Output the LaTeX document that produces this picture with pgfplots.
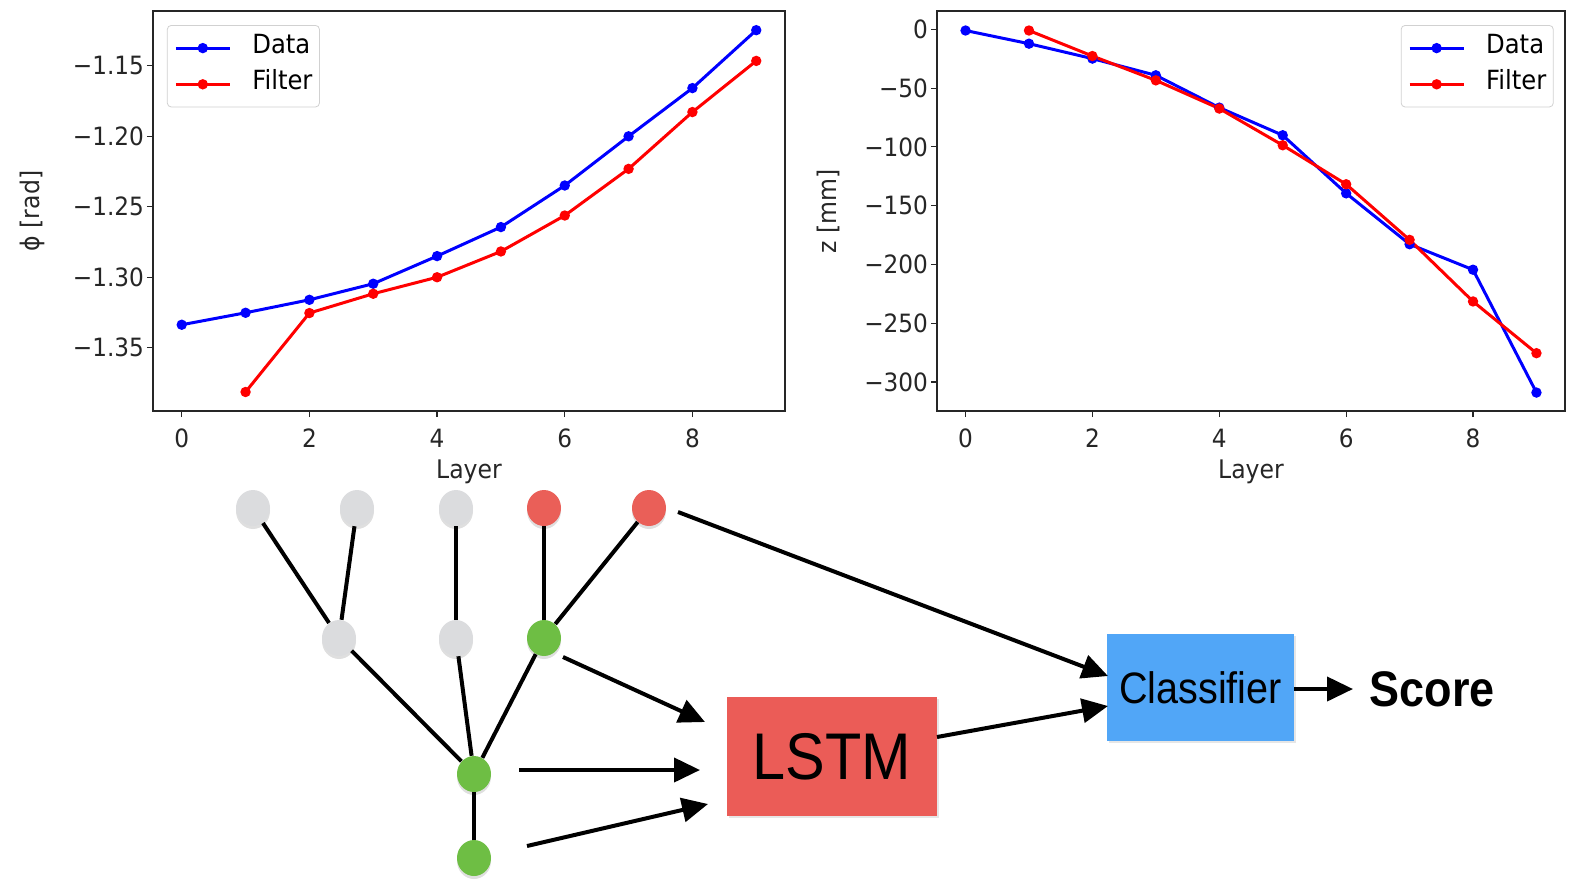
\documentclass[border=0pt]{standalone}
\usepackage{fontspec}
\usepackage{pgfplots}
\pgfplotsset{compat=1.18}
\usetikzlibrary{arrows.meta,shadows,shapes.geometric}
\newfontfamily\mpl{DejaVu Sans}[FakeStretch=0.92]
\newfontfamily\hv{Liberation Sans}[FakeStretch=0.9]

\definecolor{nodegray}{HTML}{DBDCDE}
\definecolor{nodered}{HTML}{EA5F58}
\definecolor{nodegreen}{HTML}{6EBE44}
\definecolor{lstmred}{HTML}{EB5C57}
\definecolor{clfblue}{HTML}{51A6F7}

\pgfplotsset{
  trackaxis/.style={
    scale only axis, height=200pt,
    axis line style={black!85, line width=0.75pt},
    tick align=outside, major tick length=3pt, tick pos=left,
    tick style={black!85, line width=0.6pt},
    tick label style={font=\mpl\fontsize{12.6}{15}\selectfont, text=black!85},
    x tick label style={yshift=-2.5pt},
    y tick label style={xshift=2pt},
    label style={font=\mpl\fontsize{12.8}{15}\selectfont, text=black!85},
    xmin=-0.45, xmax=9.45,
    xtick={0,2,4,6,8}, xticklabels={0,2,4,6,8},
    xlabel={Layer},
    x label style={at={(axis description cs:0.5,-0.1525)}, anchor=center},
    legend cell align=left,
    legend style={draw=black!18, rounded corners=2pt, fill=white,
      font=\mpl\fontsize{13.2}{15}\selectfont, inner xsep=3.5pt, inner ysep=6.6pt,
      nodes={inner sep=0pt, text height=0.75em, text depth=0.2em},
      row sep=8.6pt, /tikz/every odd column/.append style={column sep=10.5pt}},
    legend image code/.code={\draw[mark repeat=2,mark phase=2] plot coordinates {(0pt,0pt) (13.5pt,0pt) (27pt,0pt)};},
    every axis plot/.append style={line width=1.5pt, mark=*, mark size=1.8pt, mark options={solid}},
  },
}
\tikzset{
  tnode/.style={ellipse, minimum width=17pt, minimum height=18pt, inner sep=0pt,
    drop shadow={shadow xshift=0pt, shadow yshift=-1.5pt, opacity=0.25}},
  link/.style={line width=2pt},
  flow/.style={line width=2pt, -{Triangle[length=13pt,width=12pt]}},
}

\begin{document}
\begin{tikzpicture}
\useasboundingbox (0pt,0pt) rectangle (784.5pt,-440pt);

% phi vs layer
\begin{axis}[trackaxis, at={(76.5pt,-5.5pt)}, anchor=north west, width=316pt,
  ymin=-1.3949, ymax=-1.1111,
  ytick={-1.35,-1.30,-1.25,-1.20,-1.15},
  yticklabels={−1.35,−1.30,−1.25,−1.20,−1.15},
  ylabel={ϕ [rad]},
  y label style={at={(axis description cs:-0.19,0.5)}, anchor=center},
  legend style={at={(0.022,0.965)}, anchor=north west}]
\addplot[blue] coordinates {
  (0,-1.3337) (1,-1.3252) (2,-1.3160) (3,-1.3046) (4,-1.2850)
  (5,-1.2644) (6,-1.2349) (7,-1.2000) (8,-1.1658) (9,-1.1247)};
\addlegendentry{Data}
\addplot[red] coordinates {
  (1,-1.3814) (2,-1.3254) (3,-1.3117) (4,-1.3000) (5,-1.2817)
  (6,-1.2562) (7,-1.2231) (8,-1.1828) (9,-1.1465)};
\addlegendentry{Filter}
\end{axis}

% z vs layer
\begin{axis}[trackaxis, at={(468.5pt,-5.5pt)}, anchor=north west, width=314pt,
  ymin=-324.7, ymax=15.6,
  ytick={-300,-250,-200,-150,-100,-50,0},
  yticklabels={−300,−250,−200,−150,−100,−50,0},
  ylabel={z [mm]},
  y label style={at={(axis description cs:-0.1736,0.5)}, anchor=center},
  legend style={at={(0.982,0.965)}, anchor=north east}]
\addplot[blue] coordinates {
  (0,-1) (1,-12.2) (2,-24.9) (3,-39.1) (4,-66.6)
  (5,-90.1) (6,-139.5) (7,-182.8) (8,-204.5) (9,-309)};
\addlegendentry{Data}
\addplot[red] coordinates {
  (1,-1) (2,-22.7) (3,-43.4) (4,-67.4) (5,-98.6)
  (6,-131.8) (7,-179.1) (8,-231.5) (9,-275.5)};
\addlegendentry{Filter}
\end{axis}

% track tree and network
\begin{scope}[x=0.5pt, y=-0.5pt]
  \node[tnode, fill=nodegray]  (a1) at (253,508) {};
  \node[tnode, fill=nodegray]  (a2) at (357,508) {};
  \node[tnode, fill=nodegray]  (a3) at (456,508) {};
  \node[tnode, fill=nodered]   (a4) at (544,508) {};
  \node[tnode, fill=nodered]   (a5) at (649,508) {};
  \node[tnode, fill=nodegray]  (b1) at (339,638) {};
  \node[tnode, fill=nodegray]  (b2) at (456,638) {};
  \node[tnode, fill=nodegreen] (b3) at (544,638) {};
  \node[tnode, fill=nodegreen] (c1) at (474,774) {};
  \node[tnode, fill=nodegreen] (d1) at (474,858) {};

  \draw[link] (a1) -- (b1);
  \draw[link] (a2) -- (b1);
  \draw[link] (a3) -- (b2);
  \draw[link] (a4) -- (b3);
  \draw[link] (a5) -- (b3);
  \draw[link] (b1) -- (c1);
  \draw[link] (b2) -- (c1);
  \draw[link] (b3) -- (c1);
  \draw[link] (c1) -- (d1);

  \node[fill=lstmred, minimum width=105pt, minimum height=59.5pt, inner sep=0pt,
    drop shadow={shadow xshift=0.8pt, shadow yshift=-0.8pt, opacity=0.2}]
    (lstm) at (832,756.5) {\hv\fontsize{33}{36}\selectfont LSTM};
  \node[fill=clfblue, minimum width=93.5pt, minimum height=53.5pt, inner sep=0pt,
    drop shadow={shadow xshift=0.8pt, shadow yshift=-0.8pt, opacity=0.2}]
    (clf) at (1200.5,687.5) {\hv\fontsize{22}{24}\selectfont Classifier};
  \node at (1432,689) {\hv\bfseries\fontsize{25}{27}\selectfont Score};

  \draw[flow] (678,512) -- (1108,676);
  \draw[flow] (563,657) -- (705,722);
  \draw[flow] (519,770) -- (700,770);
  \draw[flow] (527,846) -- (708,804);
  \draw[flow] (937,737) -- (1108,706);
  \draw[flow] (1294,689) -- (1353,689);
\end{scope}
\end{tikzpicture}
\end{document}
